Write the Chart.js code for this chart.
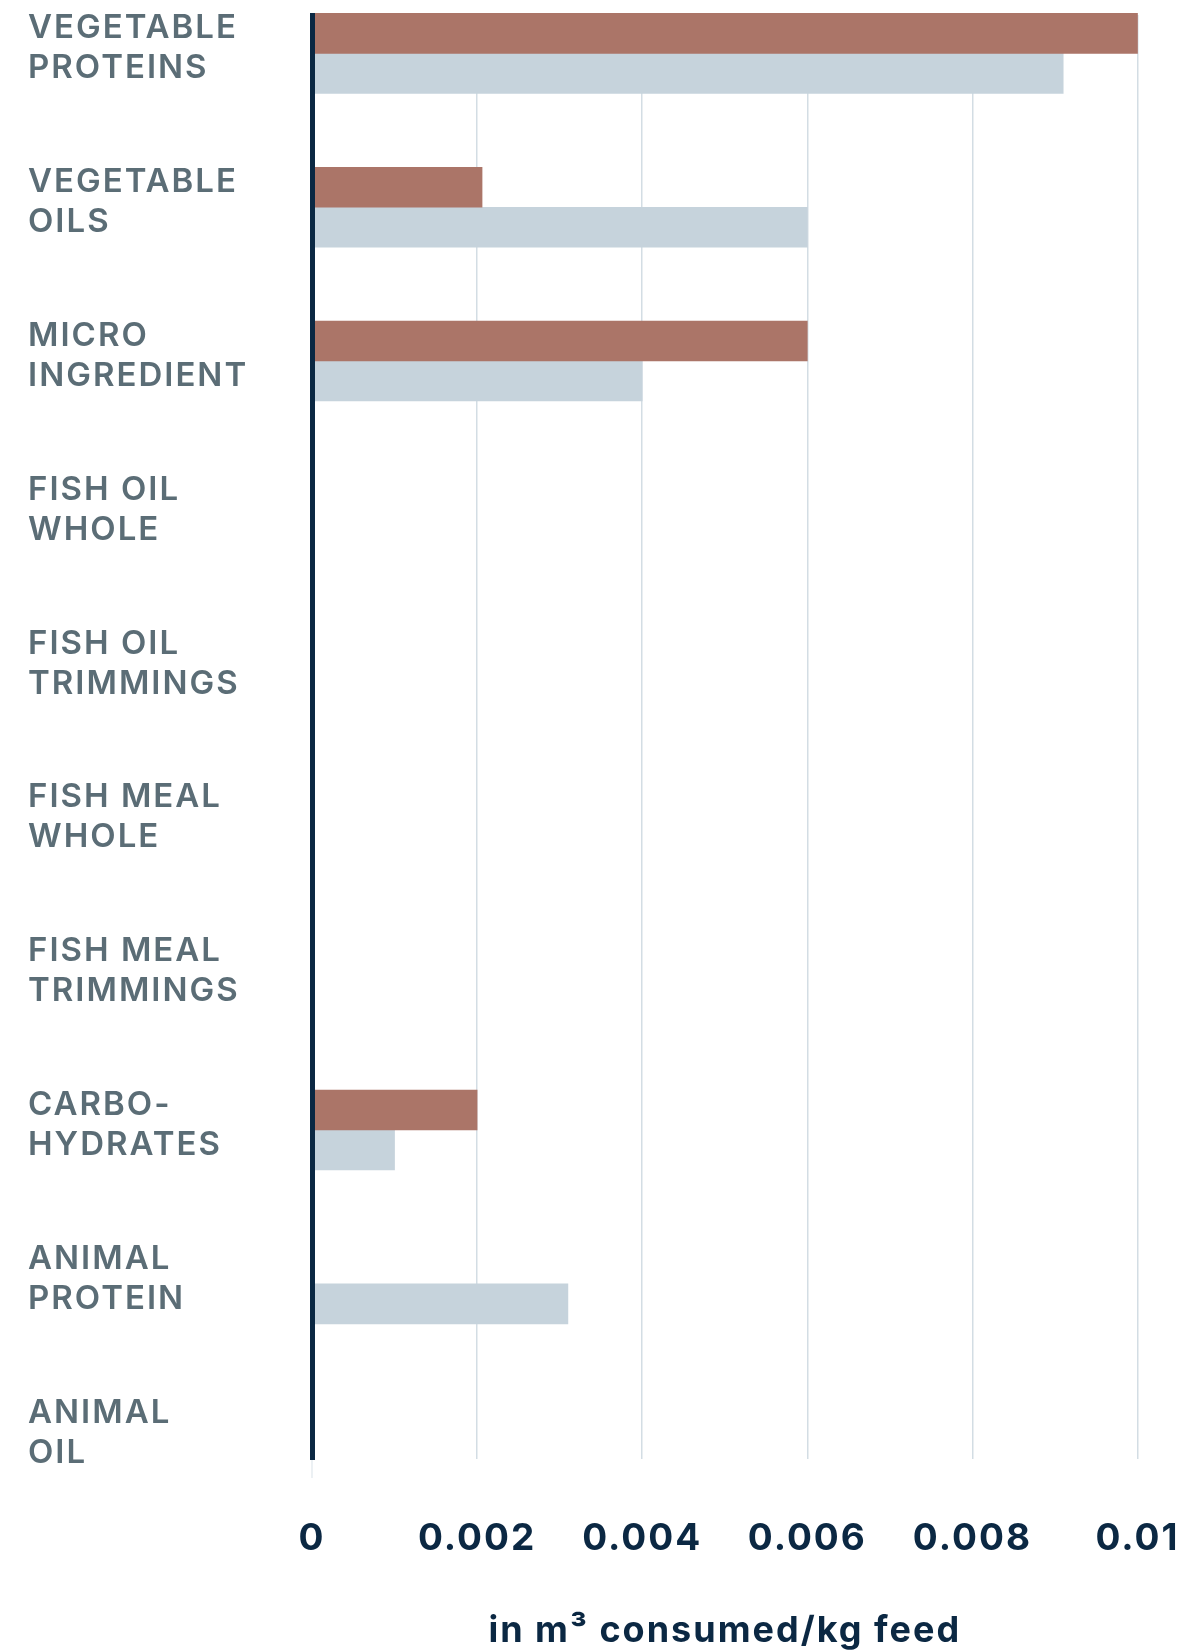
<!DOCTYPE html>
<html>
<head>
<meta charset="utf-8">
<script src="https://cdn.jsdelivr.net/npm/chart.js@4.4.1/dist/chart.umd.min.js"></script>
<style>
  html, body { margin: 0; padding: 0; background: #ffffff; }
  #wrap { width: 1193px; height: 1651px; position: relative; }
</style>
</head>
<body>
<div id="wrap"><canvas id="chart"></canvas></div>
<script>
// Feed ingredient groups, top to bottom
const categories = [
  ['VEGETABLE', 'PROTEINS'],
  ['VEGETABLE', 'OILS'],
  ['MICRO', 'INGREDIENT'],
  ['FISH OIL', 'WHOLE'],
  ['FISH OIL', 'TRIMMINGS'],
  ['FISH MEAL', 'WHOLE'],
  ['FISH MEAL', 'TRIMMINGS'],
  ['CARBO-', 'HYDRATES'],
  ['ANIMAL', 'PROTEIN'],
  ['ANIMAL', 'OIL']
];

// Water use per ingredient group (m³ per kg feed)
const feedA = [0.01, 0.00206, 0.006, 0, 0, 0, 0, 0.002, 0, 0];
const feedB = [0.0091, 0.006, 0.004, 0, 0, 0, 0, 0.001, 0.0031, 0];

const xTickValues = [0, 0.002, 0.004, 0.006, 0.008, 0.01];
const xTickLabels = ['0', '0.002', '0.004', '0.006', '0.008', '0.01'];
const axisTitle = 'in m³ consumed/kg feed';

const NAVY = '#0b2843';
const SLATE = '#5b6d76';

// All text on the chart is tracked out slightly
const textTracking = {
  id: 'textTracking',
  beforeDraw(chart) { chart.ctx.letterSpacing = '2px'; },
  afterDraw(chart) { chart.ctx.letterSpacing = '0px'; }
};

const toPoints = (values) => values.map((v, i) => ({ x: v, y: i }));

new Chart(document.getElementById('chart'), {
  type: 'bar',
  data: {
    datasets: [
      { label: 'Feed A', data: toPoints(feedA), backgroundColor: '#ab7568' },
      { label: 'Feed B', data: toPoints(feedB), backgroundColor: '#c6d3dc' }
    ]
  },
  options: {
    indexAxis: 'y',
    responsive: true,
    maintainAspectRatio: false,
    animation: false,
    events: [],
    layout: { padding: { left: 28, top: 15, right: 55.5, bottom: 0 } },
    datasets: {
      bar: { barThickness: 40, borderWidth: 0, clip: false }
    },
    plugins: {
      legend: { display: false },
      tooltip: { enabled: false }
    },
    scales: {
      x: {
        type: 'linear',
        min: 0,
        max: 0.01,
        afterBuildTicks(scale) { scale.ticks = xTickValues.map(v => ({ value: v })); },
        afterFit(scale) { scale.height = 192; scale.paddingLeft = 0; scale.paddingRight = 0; },
        grid: { color: '#d3dde4', lineWidth: 1.5, drawTicks: false },
        border: { display: false },
        ticks: {
          padding: 61,
          color: NAVY,
          font: { family: 'Inter', size: 37, weight: '700', lineHeight: 1 },
          callback: (v, i) => xTickLabels[i]
        },
        title: {
          display: true,
          text: axisTitle,
          color: NAVY,
          font: { family: 'Inter', size: 36, weight: '700', lineHeight: 1 },
          padding: { top: 0, bottom: 2 }
        }
      },
      y: {
        type: 'linear',
        reverse: true,
        offset: false,
        bounds: 'data',
        min: -0.25,
        max: 9.139,
        afterBuildTicks(scale) { scale.ticks = categories.map((c, i) => ({ value: i })); },
        afterFit(scale) { scale.width = 284; scale.paddingTop = 0; scale.paddingBottom = 0; },
        grid: { display: false, offset: false },
        border: { display: true, color: NAVY, width: 5, z: 1 },
        ticks: {
          z: 1,
          autoSkip: false,
          crossAlign: 'far',
          labelOffset: -5,
          color: SLATE,
          font: { family: 'Inter', size: 33, weight: '600', lineHeight: 1.212 },
          callback: (v) => categories[v]
        }
      }
    }
  },
  plugins: [textTracking]
});
</script>
</body>
</html>
